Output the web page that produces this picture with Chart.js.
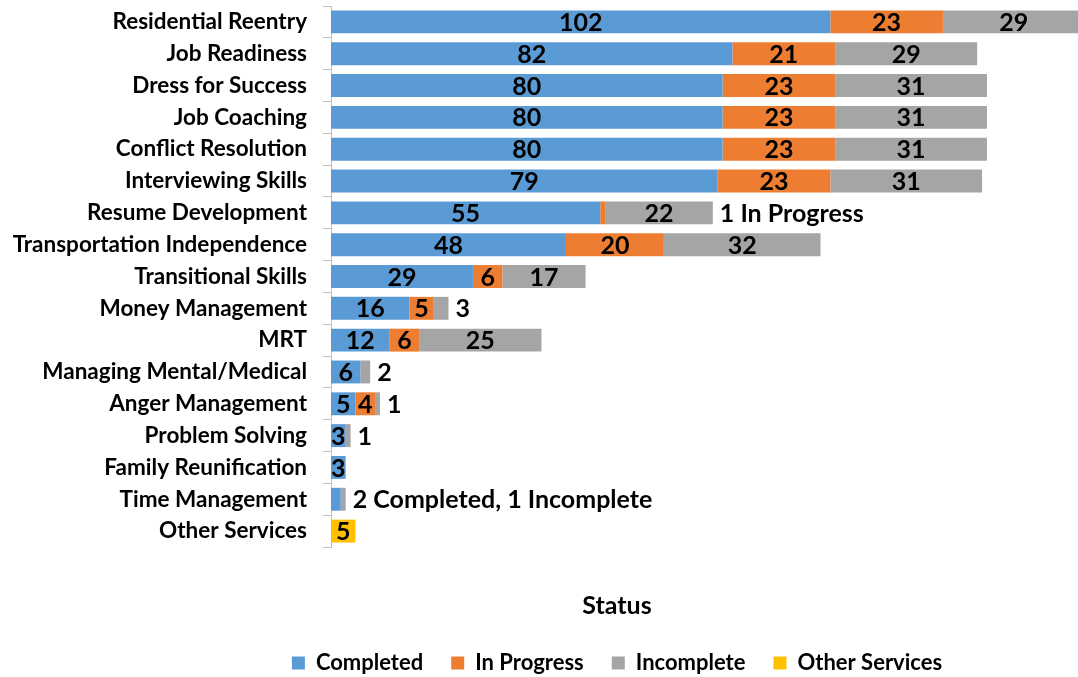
<!DOCTYPE html>
<html>
<head>
<meta charset="utf-8">
<script src="https://cdn.jsdelivr.net/npm/chart.js@4/dist/chart.umd.min.js"></script>
<style>
    html, body { margin: 0; padding: 0; background: #fff; overflow: hidden; }
    #wrap { width: 1078px; height: 677px; position: relative; }
</style>
</head>
<body>
<div id="wrap"><canvas id="statusChart"></canvas></div>
<script>
const categories = [
    'Residential Reentry', 'Job Readiness', 'Dress for Success', 'Job Coaching',
    'Conflict Resolution', 'Interviewing Skills', 'Resume Development',
    'Transportation Independence', 'Transitional Skills', 'Money Management', 'MRT',
    'Managing Mental/Medical', 'Anger Management', 'Problem Solving',
    'Family Reunification', 'Time Management', 'Other Services'
];
const completed     = [102, 82, 80, 80, 80, 79, 55, 48, 29, 16, 12, 6, 5, 3, 3, 2, 0];
const inProgress    = [23, 21, 23, 23, 23, 23, 1, 20, 6, 5, 6, 0, 4, 0, 0, 0, 0];
const incomplete    = [29, 29, 31, 31, 31, 31, 22, 32, 17, 3, 25, 2, 1, 1, 0, 1, 0];
const otherServices = [0, 0, 0, 0, 0, 0, 0, 0, 0, 0, 0, 0, 0, 0, 0, 0, 5];

// text written after the end of a bar, and the segments whose own label it replaces
const endNotes = {
    'Resume Development': '1 In Progress',
    'Money Management': '3',
    'Managing Mental/Medical': '2',
    'Anger Management': '1',
    'Problem Solving': '1',
    'Time Management': '2 Completed, 1 Incomplete'
};
const hiddenLabels = [
    ['Resume Development', 1], ['Money Management', 2], ['Managing Mental/Medical', 2],
    ['Anger Management', 2], ['Problem Solving', 2], ['Time Management', 0], ['Time Management', 2]
];

const FONT = 'Lato';
Chart.defaults.font.family = FONT;
Chart.defaults.color = '#000';

const barLabels = {
    id: 'barLabels',
    afterDatasetsDraw(chart) {
        const ctx = chart.ctx;
        ctx.save();
        ctx.font = 'bold 25px ' + FONT;
        ctx.fillStyle = '#000';
        ctx.textBaseline = 'middle';
        const ends = {};
        chart.data.datasets.forEach((ds, di) => {
            const meta = chart.getDatasetMeta(di);
            meta.data.forEach((bar, i) => {
                const v = ds.data[i];
                if (!v) return;
                const cat = categories[i];
                ends[cat] = Math.max(ends[cat] || 0, bar.x);
                const hide = hiddenLabels.some(h => h[0] === cat && h[1] === di);
                if (hide) return;
                ctx.textAlign = 'center';
                ctx.fillText(String(v), (bar.x + bar.base) / 2, bar.y + 1);
            });
        });
        const meta0 = chart.getDatasetMeta(0);
        categories.forEach((cat, i) => {
            if (!endNotes[cat]) return;
            ctx.textAlign = 'left';
            ctx.fillText(endNotes[cat], ends[cat] + 7, meta0.data[i].y + 1);
        });
        ctx.restore();
    }
};

new Chart(document.getElementById('statusChart'), {
    type: 'bar',
    data: {
        labels: categories,
        datasets: [
            { label: 'Completed', data: completed, backgroundColor: '#5B9BD5' },
            { label: 'In Progress', data: inProgress, backgroundColor: '#ED7D31' },
            { label: 'Incomplete', data: incomplete, backgroundColor: '#A5A5A5' },
            { label: 'Other Services', data: otherServices, backgroundColor: '#FFC000' }
        ].map(d => Object.assign(d, { clip: false, barPercentage: 0.72, categoryPercentage: 1 }))
    },
    options: {
        indexAxis: 'y',
        responsive: true,
        maintainAspectRatio: false,
        animation: false,
        // the first bar runs off the right edge, as in the source
        layout: { padding: { top: 6, right: -156, bottom: -7, left: 0 } },
        scales: {
            x: {
                stacked: true,
                display: false,
                min: 0,
                max: 152.6
            },
            y: {
                stacked: true,
                grid: { drawOnChartArea: false, color: '#BFBFBF', tickLength: 8, offset: true },
                border: { color: '#BFBFBF' },
                ticks: { padding: 16, font: { size: 22.5, weight: 'bold' }, color: '#000' },
                afterFit(scale) {
                    scale.width = 331;
                    scale.paddingTop = 0;
                    scale.paddingBottom = 0;
                }
            }
        },
        plugins: {
            tooltip: { enabled: false },
            legend: {
                position: 'bottom',
                title: {
                    display: true,
                    text: 'Status',
                    font: { size: 25, weight: 'bold' },
                    color: '#000',
                    padding: { top: 46, bottom: 1 }
                },
                labels: {
                    boxWidth: 13,
                    boxHeight: 13,
                    padding: 28,
                    font: { size: 22, weight: 'bold' },
                    color: '#000'
                }
            }
        }
    },
    plugins: [barLabels]
});
</script>
</body>
</html>
